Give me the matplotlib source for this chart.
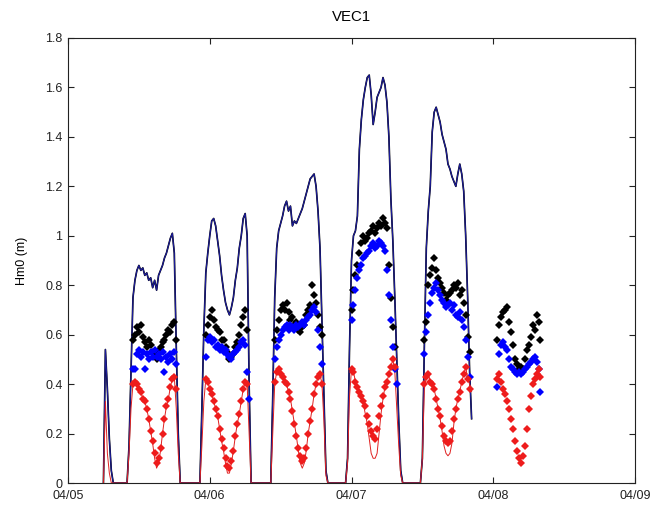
import numpy as np
import matplotlib
matplotlib.use("Agg")
import matplotlib.pyplot as plt

nan = np.nan

# 20-minute samples, time axis in days of April
T0 = 5.25
DT = 1 / 72
seg_index = [0, 12, 49, 85, 123, 161]   # start sample of each wet period
final_index = 200                        # last period: point data only

# Hm0 envelope line (black + blue) per segment
env = [
    [0.00, 0.54, 0.38, 0.18, 0.05, 0.00],
    [0.00, 0.15, 0.45, 0.75, 0.82, 0.86, 0.88, 0.86, 0.87, 0.84, 0.85, 0.82, 0.83, 0.79,
     0.82, 0.78, 0.84, 0.86, 0.88, 0.91, 0.93, 0.96, 0.99, 1.01, 0.93, 0.55, 0.20, 0.00],
    [0.00, 0.30, 0.62, 0.85, 0.93, 1.00, 1.06, 1.07, 1.04, 0.98, 0.92, 0.84, 0.78, 0.73,
     0.70, 0.68, 0.71, 0.75, 0.82, 0.87, 0.95, 1.00, 1.07, 1.09, 1.00, 0.40, 0.00],
    [0.00, 0.35, 0.75, 0.95, 1.02, 1.05, 1.08, 1.12, 1.14, 1.10, 1.12, 1.04, 1.06, 1.05,
     1.07, 1.09, 1.11, 1.14, 1.17, 1.20, 1.23, 1.24, 1.25, 1.20, 1.10, 0.95, 0.65, 0.35,
     0.05, 0.00],
    [0.00, 0.10, 0.55, 0.90, 1.00, 1.02, 1.08, 1.35, 1.47, 1.55, 1.60, 1.64, 1.65, 1.57,
     1.45, 1.50, 1.56, 1.58, 1.60, 1.64, 1.61, 1.54, 1.40, 1.15, 0.98, 0.75, 0.50, 0.25,
     0.05, 0.00],
    [0.00, 0.10, 0.55, 0.95, 1.10, 1.20, 1.42, 1.50, 1.52, 1.49, 1.46, 1.41, 1.38, 1.35,
     1.29, 1.27, 1.24, 1.22, 1.20, 1.25, 1.29, 1.25, 1.18, 1.00, 0.75, 0.45, 0.26],
]

# red line per segment
red_line = [
    [0.00, 0.33, 0.12, 0.04, 0.00, 0.00],
    [0.00, 0.12, 0.30, 0.40, 0.41, 0.40, 0.38, 0.37, 0.34, 0.33, 0.30, 0.26, 0.21, 0.16,
     0.10, 0.06, 0.08, 0.13, 0.20, 0.26, 0.31, 0.34, 0.39, 0.42, 0.43, 0.30, 0.12, 0.00],
    [0.00, 0.15, 0.33, 0.42, 0.41, 0.38, 0.36, 0.33, 0.30, 0.27, 0.22, 0.17, 0.13, 0.08,
     0.04, 0.04, 0.08, 0.13, 0.19, 0.24, 0.28, 0.33, 0.38, 0.41, 0.40, 0.20, 0.00],
    [0.00, 0.20, 0.40, 0.45, 0.46, 0.45, 0.43, 0.42, 0.40, 0.37, 0.34, 0.29, 0.24, 0.19,
     0.13, 0.08, 0.06, 0.08, 0.13, 0.20, 0.25, 0.30, 0.36, 0.40, 0.43, 0.44, 0.40, 0.25,
     0.03, 0.00],
    [0.00, 0.08, 0.35, 0.46, 0.45, 0.41, 0.39, 0.37, 0.35, 0.32, 0.28, 0.24, 0.18, 0.12,
     0.10, 0.10, 0.12, 0.20, 0.28, 0.34, 0.39, 0.41, 0.44, 0.47, 0.50, 0.45, 0.30, 0.15,
     0.03, 0.00],
    [0.00, 0.10, 0.38, 0.43, 0.44, 0.41, 0.40, 0.38, 0.34, 0.30, 0.26, 0.21, 0.15, 0.12,
     0.11, 0.12, 0.16, 0.24, 0.30, 0.34, 0.37, 0.41, 0.44, 0.47, 0.42, 0.40, 0.37],
]

# point data (segments 1-5 on the same samples as the lines, then the final period)
black_pts = [
    [nan] * 6,
    [nan, nan, nan, 0.58, 0.60, 0.63, 0.61, 0.64, 0.59, 0.57, 0.55, 0.58, 0.56, 0.53,
     0.52, 0.50, 0.54, 0.55, 0.57, 0.58, 0.60, 0.62, 0.61, 0.64, 0.65, 0.58, nan, nan],
    [nan, nan, nan, 0.60, 0.64, 0.67, 0.70, 0.66, 0.63, 0.62, 0.61, 0.58, 0.58, 0.55,
     0.53, 0.50, 0.51, 0.52, 0.55, 0.57, 0.60, 0.64, 0.67, 0.70, 0.62, nan, nan],
    [nan, nan, 0.58, 0.62, 0.66, 0.70, 0.72, 0.70, 0.73, 0.69, 0.66, 0.67, 0.64, 0.65,
     0.62, 0.61, 0.63, 0.64, 0.68, 0.70, 0.72, 0.80, 0.76, 0.73, 0.68, 0.63, 0.60, nan,
     nan, nan],
    [nan, nan, nan, 0.70, 0.78, 0.84, 0.88, 0.93, 0.97, 1.00, 0.98, 0.99, 1.01, 1.02,
     1.04, 1.01, 1.03, 1.05, 1.04, 1.07, 1.05, 1.03, 0.88, 0.75, 0.63, 0.55, nan, nan,
     nan, nan],
    [nan, nan, 0.58, 0.65, 0.80, 0.84, 0.87, 0.91, 0.86, 0.83, 0.81, 0.79, 0.77, 0.74,
     0.76, 0.77, 0.78, 0.80, 0.79, 0.81, 0.76, 0.78, 0.73, 0.68, 0.59, 0.53, nan],
]
blue_pts = [
    [nan] * 6,
    [nan, nan, nan, 0.46, 0.46, 0.52, 0.54, 0.51, 0.53, 0.46, 0.52, 0.50, 0.53, 0.51,
     0.54, 0.51, 0.52, 0.50, 0.53, 0.45, 0.51, 0.49, 0.52, 0.50, 0.53, 0.48, nan, nan],
    [nan, nan, nan, 0.51, 0.58, 0.59, 0.57, 0.58, 0.55, 0.56, 0.54, 0.55, 0.53, 0.54,
     0.52, 0.51, 0.50, 0.52, 0.53, 0.54, 0.55, 0.57, 0.58, 0.56, 0.45, 0.34, nan],
    [nan, nan, 0.50, 0.55, 0.58, 0.60, 0.62, 0.63, 0.64, 0.62, 0.64, 0.63, 0.62, 0.64,
     0.63, 0.64, 0.65, 0.64, 0.66, 0.67, 0.68, 0.70, 0.71, 0.69, 0.62, 0.55, 0.48, nan,
     nan, nan],
    [nan, nan, nan, 0.66, 0.72, 0.78, 0.83, 0.86, 0.88, 0.91, 0.92, 0.93, 0.94, 0.96,
     0.97, 0.95, 0.96, 0.98, 0.97, 0.96, 0.94, 0.86, 0.76, 0.66, 0.55, 0.46, 0.40, nan,
     nan, nan],
    [nan, nan, 0.52, 0.61, 0.68, 0.73, 0.77, 0.79, 0.81, 0.78, 0.76, 0.74, 0.73, 0.71,
     0.72, 0.73, 0.70, 0.72, 0.68, 0.67, 0.69, 0.66, 0.63, 0.58, 0.51, 0.43, nan],
]
red_pts = [
    [nan] * 6,
    [nan, nan, nan, 0.40, 0.41, 0.40, 0.38, 0.37, 0.34, 0.33, 0.30, 0.26, 0.21, 0.17,
     0.12, 0.08, 0.10, 0.14, 0.20, 0.26, 0.31, 0.34, 0.39, 0.42, 0.43, 0.38, nan, nan],
    [nan, nan, nan, 0.42, 0.41, 0.38, 0.36, 0.33, 0.30, 0.27, 0.22, 0.18, 0.14, 0.10,
     0.07, 0.06, 0.09, 0.13, 0.19, 0.24, 0.28, 0.33, 0.38, 0.41, 0.40, nan, nan],
    [nan, nan, 0.41, 0.45, 0.46, 0.44, 0.43, 0.41, 0.40, 0.37, 0.34, 0.29, 0.24, 0.19,
     0.14, 0.11, 0.09, 0.10, 0.14, 0.20, 0.25, 0.30, 0.36, 0.40, 0.43, 0.44, 0.40, nan,
     nan, nan],
    [nan, nan, nan, 0.46, 0.45, 0.41, 0.39, 0.37, 0.35, 0.33, 0.31, 0.27, 0.24, 0.21,
     0.19, 0.18, 0.22, 0.27, 0.31, 0.35, 0.39, 0.41, 0.44, 0.47, 0.50, 0.47, nan, nan,
     nan, nan],
    [nan, nan, 0.40, 0.43, 0.44, 0.41, 0.40, 0.38, 0.34, 0.30, 0.27, 0.23, 0.19, 0.17,
     0.16, 0.17, 0.21, 0.26, 0.30, 0.34, 0.37, 0.41, 0.44, 0.47, 0.42, 0.38, nan],
]
final_black = [0.58, 0.64, 0.67, 0.69, 0.70, 0.71, 0.65, 0.61, 0.56, 0.50, 0.48, 0.46,
               0.47, 0.46, 0.50, 0.54, 0.56, 0.59, 0.64, 0.62, 0.68, 0.65, 0.58]
final_blue = [0.39, 0.52, 0.56, 0.57, 0.55, 0.54, 0.50, 0.47, 0.46, 0.45, 0.44, 0.45,
              0.44, 0.45, 0.46, 0.47, 0.48, 0.49, 0.50, 0.51, 0.49, 0.46, 0.37]
final_red = [0.42, 0.44, 0.41, 0.38, 0.36, 0.33, 0.30, 0.26, 0.22, 0.17, 0.13, 0.10,
             0.08, 0.11, 0.15, 0.22, 0.30, 0.35, 0.40, 0.42, 0.44, 0.46, 0.43]

xtick_pos = [5, 6, 7, 8, 9]
xtick_lab = ['04/05', '04/06', '04/07', '04/08', '04/09']
ytick_pos = [0, 0.2, 0.4, 0.6, 0.8, 1.0, 1.2, 1.4, 1.6, 1.8]
ytick_lab = ['0', '0.2', '0.4', '0.6', '0.8', '1', '1.2', '1.4', '1.6', '1.8']

# assemble time series
t_line = np.concatenate([T0 + (i0 + np.arange(len(v))) * DT for i0, v in zip(seg_index, env)])
env_all = np.concatenate(env)
red_all = np.concatenate(red_line)
t_fin = T0 + (final_index + np.arange(len(final_black))) * DT
t_pts = np.concatenate([t_line, t_fin])
black_all = np.concatenate([np.concatenate(black_pts), final_black])
blue_all = np.concatenate([np.concatenate(blue_pts), final_blue])
redp_all = np.concatenate([np.concatenate(red_pts), final_red])

plt.rcParams['font.family'] = ['Liberation Sans', 'DejaVu Sans']
plt.rcParams['font.size'] = 9

fig = plt.figure(figsize=(6.54, 5.07), dpi=100)
ax = fig.add_axes([68 / 654, 24 / 507, 567 / 654, 445 / 507])

ax.plot(t_line, env_all, color='black', lw=1.2)
ax.plot(t_line, env_all, color='#1c1c9a', lw=0.8)
ax.plot(t_line, red_all, color='#e02020', lw=0.7)
ax.plot(t_pts, black_all, 'D', color='black', ms=3.8, mew=0)
ax.plot(t_pts, blue_all, 'D', color='#0000ff', ms=3.8, mew=0)
ax.plot(t_pts, redp_all, 'D', color='#ee1c1c', ms=3.6, mew=0)

ax.set_xlim(5, 9)
ax.set_ylim(0, 1.8)
ax.set_xticks(xtick_pos)
ax.set_xticklabels(xtick_lab)
ax.set_yticks(ytick_pos)
ax.set_yticklabels(ytick_lab)
ax.tick_params(direction='in', top=True, right=True, length=4, width=0.8,
               colors='#222222', labelcolor='#222222')
ax.tick_params(axis='x', pad=5)
ax.tick_params(axis='y', pad=4)
for s in ax.spines.values():
    s.set_linewidth(0.8)
    s.set_color('#222222')

ax.set_ylabel('Hm0 (m)', labelpad=12)
ax.set_title('VEC1', pad=12)

fig.savefig('out.png', dpi=100)
